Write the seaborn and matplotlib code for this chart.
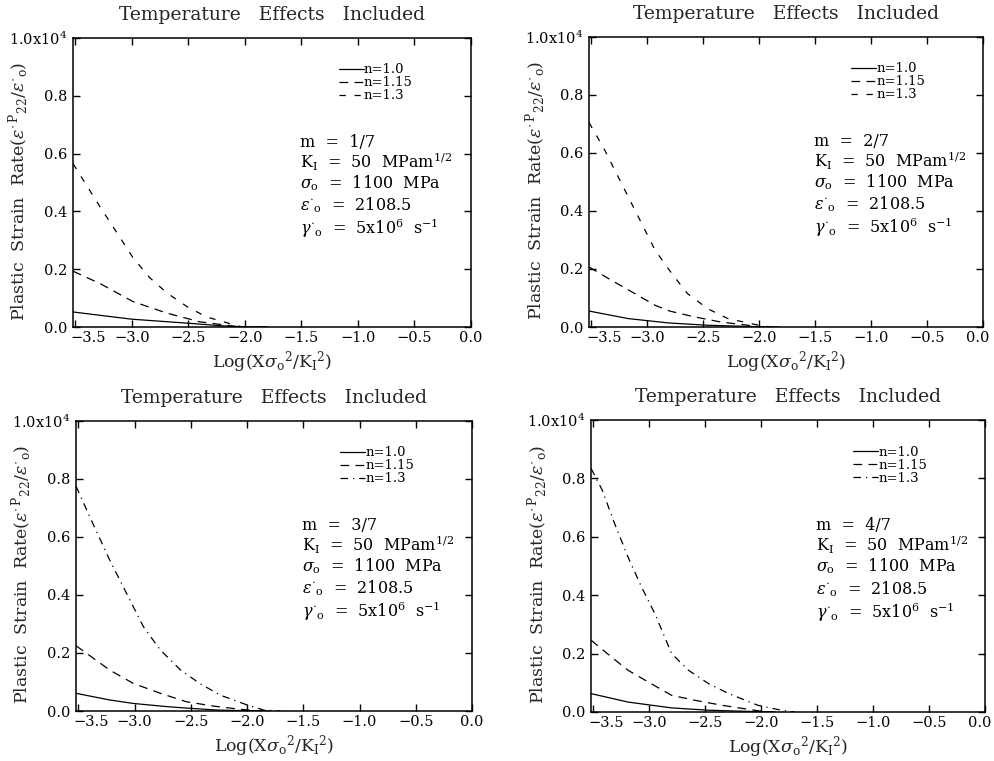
import numpy as np
import pandas as pd
import matplotlib
matplotlib.use("Agg")
import matplotlib.pyplot as plt
import matplotlib.transforms as mtransforms
import seaborn as sns

# ---------------- data (values in units of 1e4) ----------------
m_labels = ["1/7", "2/7", "3/7", "4/7"]
series_names = ["n=1.0", "n=1.15", "n=1.3"]

# panel 1 : m = 1/7
p1_x_n10 = [-3.52, -3.0, -2.5, -2.2, -2.0, -1.8]
p1_y_n10 = [0.052, 0.027, 0.013, 0.004, 0.0, 0.0]
p1_x_n115 = [-3.52, -3.28, -2.99, -2.69, -2.4, -2.1, -2.0, -1.8]
p1_y_n115 = [0.193, 0.150, 0.088, 0.048, 0.018, 0.003, 0.0, 0.0]
p1_x_n13 = [-3.52, -3.28, -3.13, -2.99, -2.84, -2.69, -2.51, -2.34, -2.1, -2.02, -1.8]
p1_y_n13 = [0.565, 0.415, 0.325, 0.240, 0.170, 0.118, 0.070, 0.035, 0.008, 0.0, 0.0]

# panel 2 : m = 2/7
p2_x_n10 = [-3.52, -3.17, -2.81, -2.46, -2.1, -1.9]
p2_y_n10 = [0.055, 0.029, 0.014, 0.006, 0.002, 0.0]
p2_x_n115 = [-3.52, -3.32, -3.11, -2.93, -2.8, -2.58, -2.34, -2.1, -1.95, -1.8]
p2_y_n115 = [0.207, 0.161, 0.115, 0.075, 0.055, 0.035, 0.017, 0.006, 0.0, 0.0]
p2_x_n13 = [-3.52, -3.38, -3.23, -3.08, -2.93, -2.78, -2.64, -2.46, -2.28, -2.04, -1.9, -1.8]
p2_y_n13 = [0.705, 0.610, 0.495, 0.380, 0.265, 0.184, 0.115, 0.063, 0.029, 0.009, 0.0, 0.0]

# panel 3 : m = 3/7
p3_x_n10 = [-3.52, -3.22, -3.01, -2.71, -2.5, -2.25, -2.0, -1.8]
p3_y_n10 = [0.061, 0.038, 0.026, 0.015, 0.009, 0.003, 0.001, 0.0]
p3_x_n115 = [-3.52, -3.43, -3.22, -3.01, -2.77, -2.54, -2.3, -2.06, -1.9, -1.8]
p3_y_n115 = [0.225, 0.200, 0.141, 0.095, 0.061, 0.032, 0.017, 0.006, 0.0, 0.0]
p3_x_n13 = [-3.52, -3.37, -3.22, -3.07, -2.92, -2.77, -2.59, -2.42, -2.24, -2.0, -1.85, -1.7]
p3_y_n13 = [0.775, 0.646, 0.520, 0.405, 0.290, 0.210, 0.141, 0.095, 0.055, 0.021, 0.003, 0.0]

# panel 4 : m = 4/7
p4_x_n10 = [-3.52, -3.19, -2.8, -2.47, -2.1, -1.9]
p4_y_n10 = [0.063, 0.034, 0.014, 0.006, 0.002, 0.0]
p4_x_n115 = [-3.52, -3.34, -3.19, -3.01, -2.8, -2.59, -2.35, -2.11, -1.95, -1.8]
p4_y_n115 = [0.246, 0.189, 0.143, 0.103, 0.057, 0.040, 0.023, 0.009, 0.0, 0.0]
p4_x_n13 = [-3.52, -3.42, -3.31, -3.19, -3.07, -2.95, -2.8, -2.65, -2.47, -2.29, -2.03, -1.82, -1.7]
p4_y_n13 = [0.834, 0.760, 0.646, 0.531, 0.429, 0.337, 0.200, 0.143, 0.097, 0.063, 0.023, 0.006, 0.0]

panels = [
    [(p1_x_n10, p1_y_n10), (p1_x_n115, p1_y_n115), (p1_x_n13, p1_y_n13)],
    [(p2_x_n10, p2_y_n10), (p2_x_n115, p2_y_n115), (p2_x_n13, p2_y_n13)],
    [(p3_x_n10, p3_y_n10), (p3_x_n115, p3_y_n115), (p3_x_n13, p3_y_n13)],
    [(p4_x_n10, p4_y_n10), (p4_x_n115, p4_y_n115), (p4_x_n13, p4_y_n13)],
]

x_ticks = [-3.5, -3.0, -2.5, -2.0, -1.5, -1.0, -0.5, 0.0]
x_ticklabels = ["\u22123.5", "\u22123.0", "\u22122.5", "\u22122.0", "\u22121.5", "\u22121.0", "\u22120.5", "0.0"]
y_ticks = [0.0, 0.2, 0.4, 0.6, 0.8, 1.0]
y_ticklabels = ["0.0", "0.2", "0.4", "0.6", "0.8", r"1.0x10$^4$"]

# ---------------- style ----------------
sns.set_theme(style="ticks")
plt.rcParams["font.family"] = ["DejaVu Serif"]
plt.rcParams["mathtext.fontset"] = "dejavuserif"
plt.rcParams["axes.linewidth"] = 1.1

fig = plt.figure(figsize=(9.95, 7.61), dpi=100)
positions = [
    [0.0734, 0.5703, 0.400, 0.3798],
    [0.5920, 0.5703, 0.396, 0.3811],
    [0.0764, 0.0657, 0.398, 0.3811],
    [0.5940, 0.0644, 0.396, 0.3837],
]

top_styles = ["-", (0, (7, 5)), (0, (5, 7))]
bottom_styles = ["-", (0, (7, 5)), (0, (6, 4, 1, 4))]

for i, pos in enumerate(positions):
    ax = fig.add_axes(pos)
    styles = top_styles if i < 2 else bottom_styles
    for (xs, ys), name, ls in zip(panels[i], series_names, styles):
        df = pd.DataFrame({"x": xs, "y": ys})
        sns.lineplot(data=df, x="x", y="y", ax=ax, color="black", lw=0.9,
                     linestyle=ls, label=name, sort=False)
    ax.set_xlim(-3.52, 0.0)
    ax.set_ylim(0.0, 1.0)
    ax.set_xticks(x_ticks)
    ax.set_xticklabels(x_ticklabels, fontsize=10.5)
    ax.set_yticks(y_ticks)
    ax.set_yticklabels(y_ticklabels, fontsize=10.5)
    ax.tick_params(direction="in", length=5, width=1.0, top=True, right=True,
                   color="black", labelcolor="black", pad=4)
    ax.tick_params(axis="x", pad=3)
    for s in ax.spines.values():
        s.set_visible(True)
        s.set_color("black")
    # shift the first x label to the right so it stays within the frame
    lbls = ax.get_xticklabels()
    lbls[0].set_transform(lbls[0].get_transform() +
                          mtransforms.ScaledTranslation(0.13, 0, fig.dpi_scale_trans))
    if i in (1, 3):
        lbls[-1].set_transform(lbls[-1].get_transform() +
                               mtransforms.ScaledTranslation(-0.05, 0, fig.dpi_scale_trans))

    ax.set_title("Temperature   Effects   Included", fontsize=13.5, pad=13)
    ax.set_xlabel(r"Log(X$\sigma_{\mathrm{o}}{}^{2}$/K$_{\mathrm{I}}{}^{2}$)", fontsize=12.5)
    ax.xaxis.set_label_coords(0.5, -0.075)
    ax.set_ylabel(r"Plastic  Strain  Rate($\varepsilon^{\cdot\, \mathrm{P}}{}_{22}/\varepsilon^{\cdot}{}_{\mathrm{o}}$)",
                  fontsize=12.5)
    ax.yaxis.set_label_coords(-0.105, 0.47)

    leg = ax.legend(loc="upper right", bbox_to_anchor=(0.87, 0.935), frameon=False,
                    fontsize=9.5, handlelength=1.9, handletextpad=0.0,
                    labelspacing=0.0, borderpad=0.0)
    for t in leg.get_texts():
        t.set_color("black")

    lines_txt = [
        f"m  =  {m_labels[i]}",
        r"K$_{\mathrm{I}}$  =  50  MPam$^{1/2}$",
        r"$\sigma_{\mathrm{o}}$  =  1100  MPa",
        r"$\varepsilon^{\cdot}{}_{\mathrm{o}}$  =  2108.5",
        r"$\gamma^{\cdot}{}_{\mathrm{o}}$  =  5x10$^{6}$  s$^{-1}$",
    ]
    ys_txt = [0.64, 0.571, 0.498, 0.422, 0.343]
    for t, yy in zip(lines_txt, ys_txt):
        ax.text(0.57, yy, t, transform=ax.transAxes, fontsize=11.5,
                va="center", ha="left", color="black")

fig.savefig("out.png", dpi=100)
